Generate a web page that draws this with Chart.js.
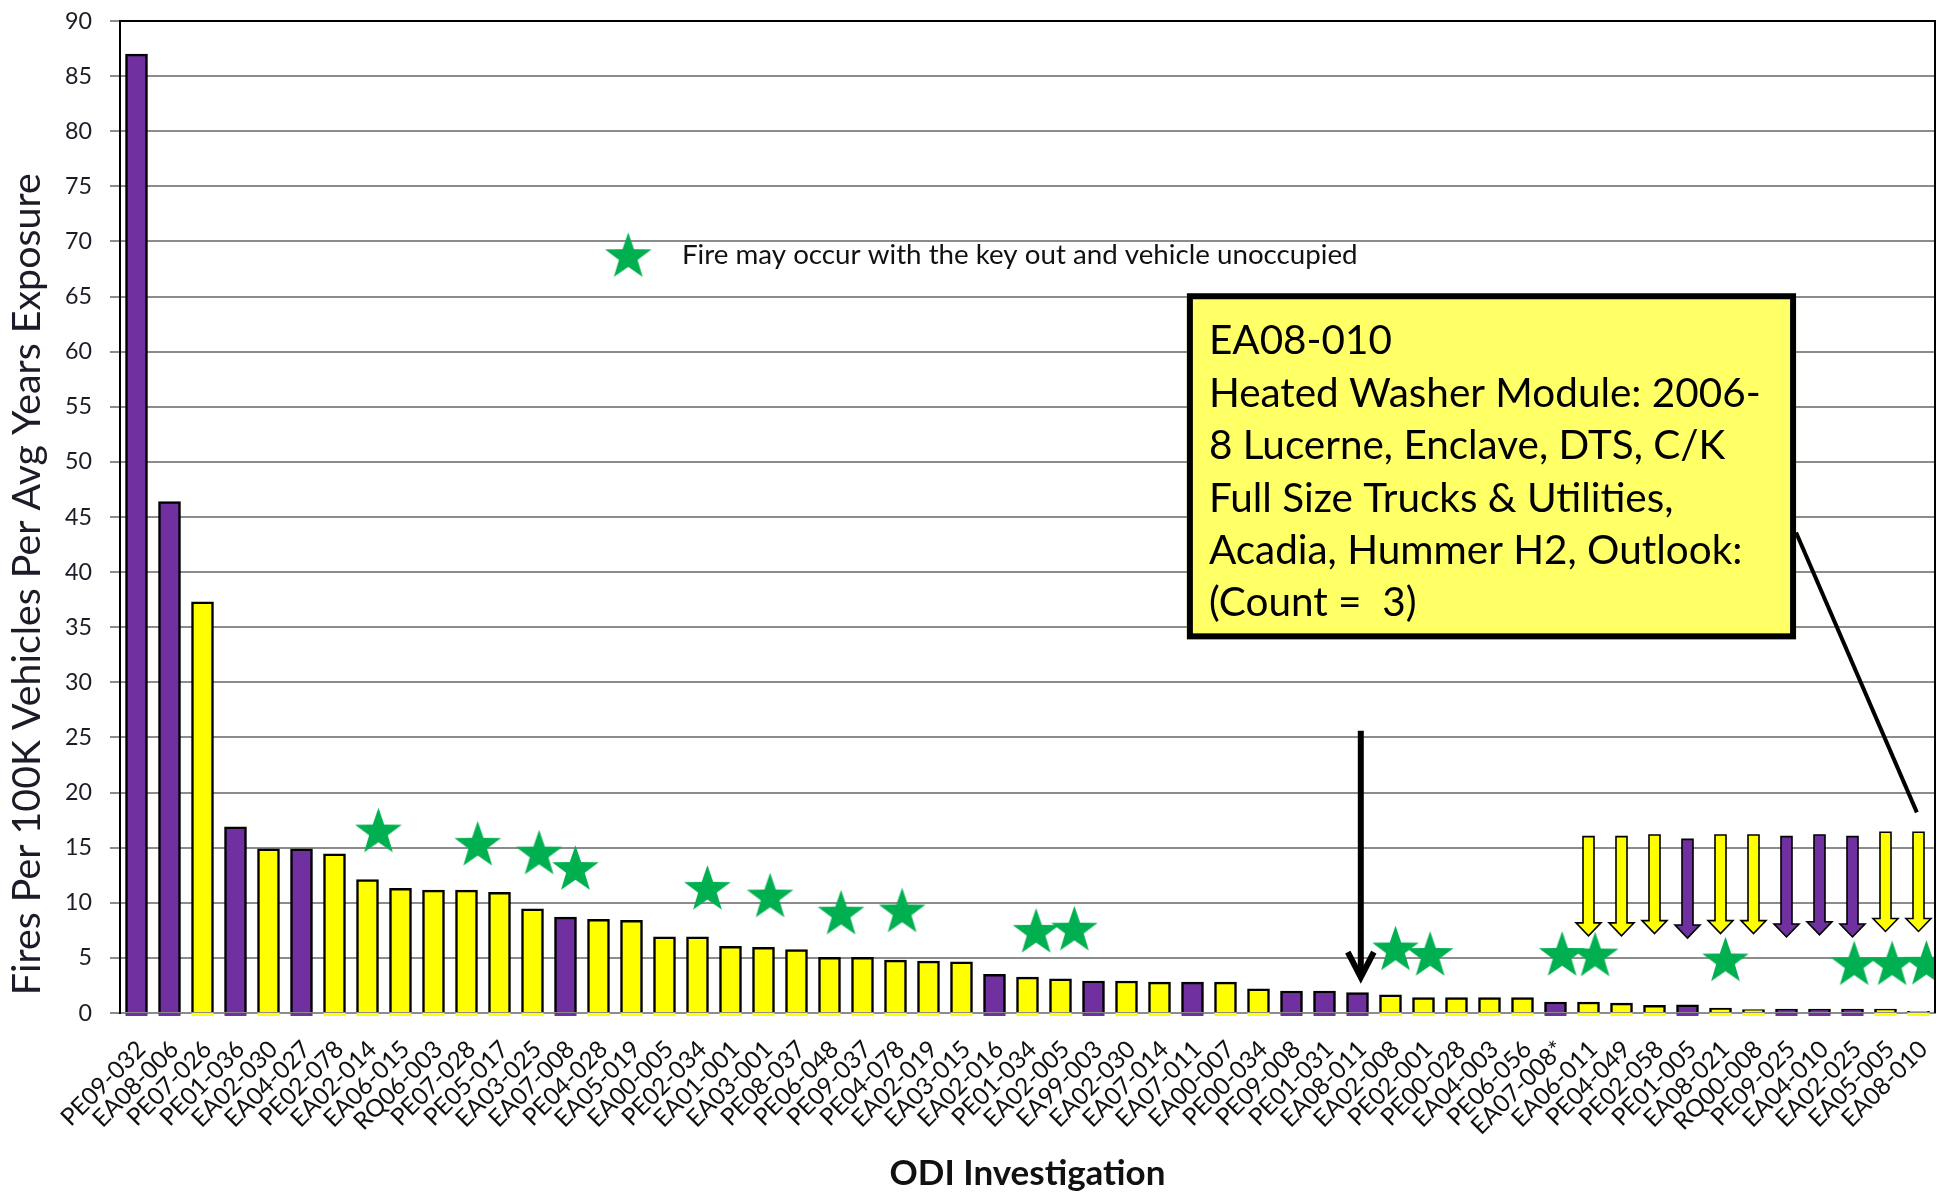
<!DOCTYPE html>
<html><head><meta charset="utf-8">
<script src="https://cdn.jsdelivr.net/npm/chart.js@4.4.1/dist/chart.umd.min.js"></script>
<style>html,body{margin:0;padding:0;background:#fff;}</style>
</head><body>
<canvas id="c" width="1939" height="1195"></canvas>
<script>
// ---------------- DATA ----------------
const categories = ["PE09-032","EA08-006","PE07-026","PE01-036","EA02-030","EA04-027","PE02-078","EA02-014","EA06-015","RQ06-003",
  "PE07-028","PE05-017","EA03-025","EA07-008","PE04-028","EA05-019","EA00-005","PE02-034","EA01-001","EA03-001",
  "PE08-037","PE06-048","PE09-037","PE04-078","EA02-019","EA03-015","EA02-016","PE01-034","EA02-005","EA99-003",
  "EA02-030","EA07-014","EA07-011","EA00-007","PE00-034","PE09-008","PE01-031","EA08-011","EA02-008","PE02-001",
  "PE00-028","EA04-003","PE06-056","EA07-008*","EA06-011","PE04-049","PE02-058","PE01-005","EA08-021","RQ00-008",
  "PE09-025","EA04-010","EA02-025","EA05-005","EA08-010"];
const firesPer100K = [87.0, 46.4, 37.3, 16.9, 14.9, 14.9, 14.45, 12.1, 11.3, 11.15,
  11.15, 10.95, 9.45, 8.7, 8.5, 8.4, 6.9, 6.9, 6.05, 5.95,
  5.75, 5.05, 5.05, 4.8, 4.7, 4.65, 3.5, 3.25, 3.1, 2.9,
  2.9, 2.8, 2.8, 2.8, 2.2, 2.0, 2.0, 1.85, 1.65, 1.4,
  1.4, 1.4, 1.4, 1.0, 1.0, 0.9, 0.7, 0.75, 0.45, 0.3,
  0.35, 0.35, 0.35, 0.35, 0.15];
const barKind = ["P","P","Y","P","Y","P","Y","Y","Y","Y",
  "Y","Y","Y","P","Y","Y","Y","Y","Y","Y",
  "Y","Y","Y","Y","Y","Y","P","Y","Y","P",
  "Y","Y","P","Y","Y","P","P","P","Y","Y",
  "Y","Y","Y","P","Y","Y","Y","P","Y","Y",
  "P","P","P","Y","Y"];
// green stars (category position, value)
const starX = [7.33, 10.34, 12.2, 13.3, 17.3, 19.2, 21.35, 23.2, 27.26, 28.42, 38.15, 39.2, 43.2, 44.2, 48.15, 52.05, 53.2, 54.24];
const starY = [16.6, 15.4, 14.6, 13.2, 11.4, 10.7, 9.15, 9.35, 7.5, 7.7, 5.9, 5.4, 5.4, 5.35, 4.9, 4.55, 4.55, 4.6];
// block down-arrows over the last bars
const arrowAt   = [44, 45, 46, 47, 48, 49, 50, 51, 52, 53, 54];
const arrowFrom = [16.0, 16.0, 16.15, 15.75, 16.15, 16.15, 16.0, 16.15, 16.0, 16.4, 16.4];
const arrowTo   = [7.0, 7.0, 7.2, 6.8, 7.2, 7.2, 6.9, 7.1, 6.9, 7.4, 7.4];
// black pointer arrow to EA08-011
const pointerX = [37.1], pointerFrom = [25.6], pointerTo = [2.7];
// callout box and its leader line (category position, value)
const boxX = [31.83, 50.29], boxY = [65.3, 33.9];
const leaderX = [50.29, 53.95], leaderY = [43.6, 18.2];
const noteLines = ["EA08-010", "Heated Washer Module: 2006-", "8 Lucerne, Enclave, DTS, C/K",
  "Full Size Trucks & Utilities,", "Acadia, Hummer H2, Outlook:", "(Count =  3)"];
const legendText = "Fire may occur with the key out and vehicle unoccupied";
const legendPos = [14.9, 68.8, 16.53];
const yTitle = "Fires Per 100K Vehicles Per Avg Years Exposure";
const xTitle = "ODI Investigation";

// ---------------- STYLE ----------------
const FONT = 'Lato';
const PURPLE = '#7030A0', YELLOW = '#FFFF00', GREEN = '#00B050', NOTE_FILL = '#FFFF66';
const barColors = barKind.map(k => k === 'P' ? PURPLE : YELLOW);

function fitSize(text, weight, target) {
  const g = document.createElement('canvas').getContext('2d');
  g.font = weight + ' 100px ' + FONT;
  return 100 * target / g.measureText(text).width;
}
const sz = {
  yTick: fitSize('90', 'normal', 27),
  xTick: fitSize('PE09-032', 'normal', 108),
  xTitle: fitSize(xTitle, 'bold', 276),
  yTitle: fitSize(yTitle, 'normal', 822),
  legend: fitSize(legendText, 'normal', 676),
  note: fitSize(noteLines[1], 'normal', 552)
};

function makeStar(R, ratio, color) {
  const w = 2 * R * Math.sin(2 * Math.PI / 5);
  const S = Math.ceil(w) + 4;
  const c = document.createElement('canvas');
  c.width = S; c.height = S;
  const g = c.getContext('2d');
  const cx = S / 2;
  const cy = S / 2 + R * (1 - Math.cos(Math.PI / 5)) / 2;
  g.beginPath();
  for (let k = 0; k < 10; k++) {
    const a = -Math.PI / 2 + k * Math.PI / 5;
    const r = k % 2 === 0 ? R : R * ratio;
    const px = cx + r * Math.cos(a), py = cy + r * Math.sin(a);
    if (k === 0) g.moveTo(px, py); else g.lineTo(px, py);
  }
  g.closePath();
  g.fillStyle = color;
  g.fill();
  return c;
}
const starImg = makeStar(24.5, 0.4, GREEN);

function downArrow(ctx, x, yTop, yTip, shaftW, headW, headH, fill) {
  const yb = yTip - headH;
  ctx.beginPath();
  ctx.moveTo(x - shaftW / 2, yTop);
  ctx.lineTo(x + shaftW / 2, yTop);
  ctx.lineTo(x + shaftW / 2, yb);
  ctx.lineTo(x + headW / 2, yb);
  ctx.lineTo(x, yTip);
  ctx.lineTo(x - headW / 2, yb);
  ctx.lineTo(x - shaftW / 2, yb);
  ctx.closePath();
  ctx.fillStyle = fill;
  ctx.fill();
  ctx.lineWidth = 1.6;
  ctx.strokeStyle = '#000';
  ctx.lineJoin = 'miter';
  ctx.stroke();
}

const overlay = {
  id: 'overlay',
  afterDatasetDraw(chart, args) {
    if (args.meta.type !== 'bar') return;
    const ctx = chart.ctx;
    ctx.save();
    args.meta.data.forEach((el, i) => {
      ctx.fillStyle = barColors[i];
      ctx.fillRect(el.x - el.width / 2, el.base + 1, el.width, 3);
    });
    const xs = chart.scales.xs, y = chart.scales.y;
    arrowAt.forEach((a, i) => {
      downArrow(ctx, xs.getPixelForValue(a), y.getPixelForValue(arrowFrom[i]), y.getPixelForValue(arrowTo[i]),
        11, 25, 13, barColors[a]);
    });
    ctx.restore();
  },
  afterDatasetsDraw(chart) {
    const ctx = chart.ctx, xs = chart.scales.xs, y = chart.scales.y, a = chart.chartArea;
    ctx.save();
    // pointer arrow
    const px = xs.getPixelForValue(pointerX[0]);
    const p1 = y.getPixelForValue(pointerFrom[0]), p2 = y.getPixelForValue(pointerTo[0]);
    ctx.strokeStyle = '#000';
    ctx.lineWidth = 6;
    ctx.lineCap = 'butt';
    ctx.beginPath(); ctx.moveTo(px, p1); ctx.lineTo(px, p2 - 8); ctx.stroke();
    ctx.lineJoin = 'miter';
    ctx.beginPath(); ctx.moveTo(px - 13, p2 - 31); ctx.lineTo(px, p2 - 6); ctx.lineTo(px + 13, p2 - 31); ctx.stroke();
    // leader line
    ctx.lineWidth = 4;
    ctx.beginPath();
    ctx.moveTo(xs.getPixelForValue(leaderX[0]), y.getPixelForValue(leaderY[0]));
    ctx.lineTo(xs.getPixelForValue(leaderX[1]), y.getPixelForValue(leaderY[1]));
    ctx.stroke();
    // callout box
    const bx1 = xs.getPixelForValue(boxX[0]), bx2 = xs.getPixelForValue(boxX[1]);
    const by1 = y.getPixelForValue(boxY[0]), by2 = y.getPixelForValue(boxY[1]);
    ctx.fillStyle = NOTE_FILL;
    ctx.fillRect(bx1, by1, bx2 - bx1, by2 - by1);
    ctx.lineWidth = 6;
    ctx.strokeStyle = '#000';
    ctx.strokeRect(bx1 + 3, by1 + 3, bx2 - bx1 - 6, by2 - by1 - 6);
    ctx.fillStyle = '#000';
    ctx.font = sz.note + 'px ' + FONT;
    ctx.textAlign = 'left';
    ctx.textBaseline = 'middle';
    noteLines.forEach((t, i) => ctx.fillText(t, bx1 + 22, by1 + 48 + i * 52.4));
    // legend
    const lx = xs.getPixelForValue(legendPos[0]), ly = y.getPixelForValue(legendPos[1]);
    ctx.drawImage(starImg, lx - starImg.width / 2, ly - starImg.height / 2);
    ctx.font = sz.legend + 'px ' + FONT;
    ctx.fillStyle = '#111';
    ctx.fillText(legendText, xs.getPixelForValue(legendPos[2]), ly);
    // frame: top and right
    ctx.strokeStyle = '#000';
    ctx.lineWidth = 2;
    ctx.beginPath();
    ctx.moveTo(a.left, a.top); ctx.lineTo(a.right, a.top); ctx.lineTo(a.right, a.bottom);
    ctx.stroke();
    // y axis title
    ctx.save();
    ctx.translate(27, y.getPixelForValue(38.9));
    ctx.rotate(-Math.PI / 2);
    ctx.font = sz.yTitle + 'px ' + FONT;
    ctx.fillStyle = '#1c1c28';
    ctx.textAlign = 'center';
    ctx.textBaseline = 'middle';
    ctx.fillText(yTitle, 0, 0);
    ctx.restore();
    ctx.restore();
  }
};

new Chart(document.getElementById('c'), {
  type: 'bar',
  data: {
    labels: categories,
    datasets: [
      { type: 'bar', data: firesPer100K, backgroundColor: barColors, borderColor: '#000', borderWidth: 2.5,
        barThickness: 22, grouped: false, order: 2, xAxisID: 'x', yAxisID: 'y' },
      { type: 'scatter', data: starX.map((x, i) => ({ x: x, y: starY[i] })), xAxisID: 'xs', yAxisID: 'y',
        pointStyle: starImg, pointRadius: 24, order: 1, clip: 0, showLine: false, grouped: false }
    ]
  },
  options: {
    responsive: false, animation: false, events: [],
    layout: { autoPadding: false, padding: { top: 21, right: 4, left: 0, bottom: 0 } },
    plugins: { legend: { display: false }, tooltip: { enabled: false } },
    scales: {
      x: {
        type: 'category', offset: true,
        grid: { display: false, drawTicks: false },
        border: { display: true, color: '#8c8c8c', width: 2 },
        ticks: { autoSkip: false, maxRotation: 45, minRotation: 45, padding: 22, labelOffset: 5,
          color: '#111', font: { family: FONT, size: sz.xTick } },
        title: { display: true, text: xTitle, color: '#111',
          font: { family: FONT, weight: 'bold', size: sz.xTitle },
          padding: { top: 0, bottom: Math.max(0, 19 - 0.6 * sz.xTitle) } },
        afterFit: s => { s.height = 182; s.paddingLeft = 0; s.paddingRight = 0; }
      },
      xs: { type: 'linear', axis: 'x', display: false, offset: false, grid: { offset: false }, min: -0.5, max: 54.5 },
      y: {
        min: 0, max: 90,
        ticks: { stepSize: 5, padding: 18, color: '#1c1c28', font: { family: FONT, size: sz.yTick } },
        grid: { color: '#8c8c8c', lineWidth: 2, tickLength: 10 },
        border: { display: true, color: '#000', width: 2 },
        afterFit: s => { s.width = 120; s.paddingTop = 0; s.paddingBottom = 0; }
      }
    }
  },
  plugins: [overlay]
});
</script>
</body></html>
